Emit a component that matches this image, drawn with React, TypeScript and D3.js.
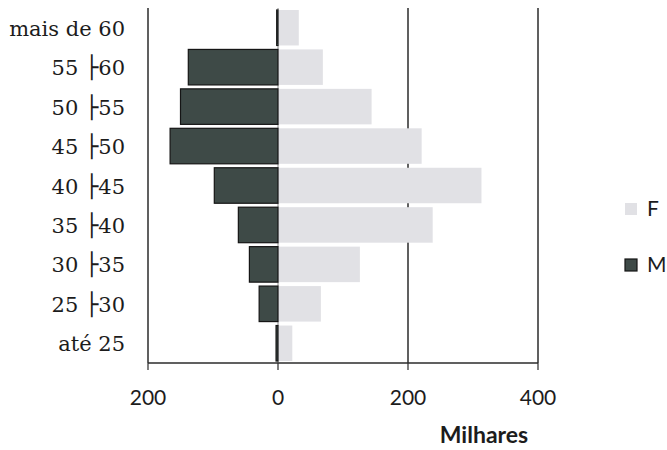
import React from "react";
import * as d3 from "d3";

const categories = [
  "mais de 60",
  "55 ├60",
  "50 ├55",
  "45 ├50",
  "40 ├45",
  "35 ├40",
  "30 ├35",
  "25 ├30",
  "até 25",
];
const valuesM = [2, 138, 150, 166, 98, 61, 44, 29, 3];
const valuesF = [32, 69, 144, 221, 313, 238, 126, 66, 22];
const tickValues = [-200, 0, 200, 400];
const seriesNames = ["F", "M"];
const axisTitle = "Milhares";

const W = 667;
const H = 450;
const top = 8;
const bottom = 363;

function Label({ text }: { text: string }) {
  const parts = text.split("├");
  if (parts.length === 1) return <>{text}</>;
  return (
    <>
      {parts[0]}
      <tspan fontFamily="'DejaVu Sans Mono', monospace" fontWeight={700} fontSize={22}>
        ├
      </tspan>
      <tspan>{parts[1]}</tspan>
    </>
  );
}

export default function App() {
  const x = d3.scaleLinear().domain([-200, 400]).range([148, 538]);
  const y = d3
    .scaleBand<string>()
    .domain(categories)
    .range([top, bottom])
    .paddingInner(0.1)
    .paddingOuter(0.05);

  const fColor = "#e1e1e5";
  const mColor = "#3e4a47";
  const lineColor = "#2b2b2b";
  const textColor = "#1c1c1c";

  return (
    <div style={{ position: "absolute", left: 0, top: 0 }}>
      <svg width={W} height={H} style={{ display: "block", background: "#fff" }}>
        <line x1={x(0)} x2={x(0)} y1={top} y2={bottom} stroke="#888" strokeWidth={1} />
        {tickValues
          .filter((t) => t > 0)
          .map((t) => (
            <line
              key={"g" + t}
              x1={x(t)}
              x2={x(t)}
              y1={top}
              y2={bottom}
              stroke={lineColor}
              strokeWidth={1.5}
            />
          ))}
        {categories.map((c, i) => (
          <rect
            key={"f" + c}
            x={x(0)}
            y={y(c)!}
            width={x(valuesF[i]) - x(0)}
            height={y.bandwidth()}
            fill={fColor}
          />
        ))}
        {categories.map((c, i) => (
          <rect
            key={"m" + c}
            x={x(-valuesM[i])}
            y={y(c)!}
            width={x(0) - x(-valuesM[i])}
            height={y.bandwidth()}
            fill={mColor}
            stroke="#151515"
            strokeWidth={1.2}
          />
        ))}
        <line x1={x(-200)} x2={x(-200)} y1={top} y2={bottom} stroke={lineColor} strokeWidth={1.5} />
        <line x1={x(-200)} x2={x(400)} y1={bottom} y2={bottom} stroke={lineColor} strokeWidth={1.5} />
        {tickValues.map((t) => (
          <line
            key={"t" + t}
            x1={x(t)}
            x2={x(t)}
            y1={bottom}
            y2={bottom + 7}
            stroke={lineColor}
            strokeWidth={1.2}
          />
        ))}
        {tickValues.map((t) => (
          <text
            key={"tl" + t}
            x={x(t)}
            y={405}
            textAnchor="middle"
            fontFamily="Lato, 'Open Sans', sans-serif"
            fontSize={21}
            fill={textColor}
          >
            {Math.abs(t)}
          </text>
        ))}
        <text
          x={484}
          y={443}
          textAnchor="middle"
          fontFamily="Lato, 'Open Sans', sans-serif"
          fontWeight="bold"
          fontSize={23}
          fill={textColor}
        >
          {axisTitle}
        </text>
        {categories.map((c) => (
          <text
            key={"c" + c}
            x={125}
            y={y(c)! + y.bandwidth() / 2 + 8}
            textAnchor="end"
            fontFamily="'DejaVu Serif', serif"
            fontSize={21}
            fill={textColor}
          >
            <Label text={c} />
          </text>
        ))}
        {seriesNames.map((s, i) => (
          <g key={"l" + s}>
            <rect
              x={625}
              y={203 + i * 56}
              width={12}
              height={12}
              fill={s === "F" ? fColor : mColor}
              stroke={s === "F" ? "none" : "#151515"}
              strokeWidth={1.2}
            />
            <text
              x={647}
              y={216 + i * 56}
              fontFamily="Lato, 'Open Sans', sans-serif"
              fontSize={21}
              fill={textColor}
            >
              {s}
            </text>
          </g>
        ))}
      </svg>
    </div>
  );
}
